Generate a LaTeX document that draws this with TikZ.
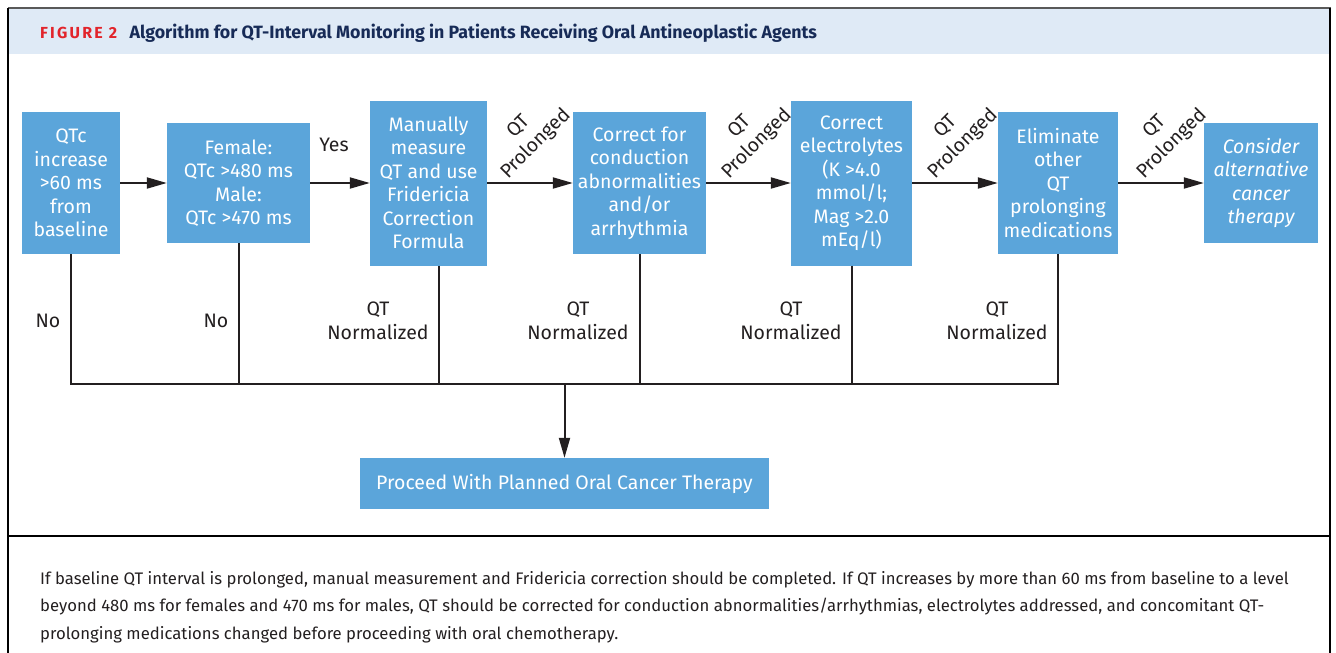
\documentclass[tikz,border=0pt]{standalone}
\usepackage{fontspec}
\setmainfont{Fira Sans}
\usetikzlibrary{arrows.meta, positioning}

\definecolor{boxblue}{HTML}{5BA5DA}
\definecolor{bandblue}{HTML}{DFEAF6}
\definecolor{titlenavy}{HTML}{172B57}
\definecolor{figred}{HTML}{E2242B}
\definecolor{ink}{HTML}{231F20}

\tikzset{
	stage/.style={fill=boxblue, text=white, align=center, inner sep=0pt,
		font=\fontsize{19.5}{23.5}\selectfont},
	lbl/.style={text=ink, align=center, inner sep=0pt, font=\fontsize{19.5}{24}\selectfont},
	flow/.style={line width=2pt, draw=ink, -{Triangle[length=20pt,width=11pt]}},
	wire/.style={line width=2pt, draw=ink},
}

\begin{document}
\begin{tikzpicture}[x=1pt,y=-1pt]
	
	% Page size and frame
	\useasboundingbox (0,0) rectangle (1336,653);
	\fill[bandblue] (9,9) rectangle (1330,54);
	\draw[gray!70!black, line width=1.5pt] (8,8) -- (1331,8);
	\draw[black, line width=2pt] (8,8) -- (8,653);
	\draw[black, line width=2pt] (1330,8) -- (1330,653);
	\draw[black, line width=1.5pt] (8,536) -- (1330,536);
	
	% Heading
	\node[anchor=west, inner sep=0pt, text=figred,
		font=\fontsize{16}{18}\selectfont\bfseries\addfontfeatures{LetterSpace=14}] (figno) at (40,33) {FIGURE 2};
	\node[right=12pt of figno, inner sep=0pt, text=titlenavy,
		font=\fontsize{17.8}{20}\selectfont\bfseries] (title)
		{Algorithm for QT-Interval Monitoring in Patients Receiving Oral Antineoplastic Agents};
	
	% Steps along the top row
	\node[stage, minimum width=98, minimum height=142] (onset) at (71,183)
		{QTc\\increase\\>60 ms\\from\\baseline};
	\node[stage, minimum width=143, minimum height=120] (sex) at (238.5,183)
		{Female:\\QTc >480 ms\\Male:\\QTc >470 ms};
	\node[stage, minimum width=117, minimum height=165] (manual) at (428.5,183)
		{Manually\\measure\\QT and use\\Fridericia\\Correction\\Formula};
	\node[stage, minimum width=133, minimum height=142] (conduct) at (639.5,183)
		{Correct for\\conduction\\abnormalities\\and/or\\arrhythmia};
	\node[stage, minimum width=121, minimum height=165] (lytes) at (851.5,183)
		{Correct\\electrolytes\\(K >4.0\\mmol/l;\\Mag >2.0\\mEq/l)};
	\node[stage, minimum width=120, minimum height=142] (meds) at (1058,183)
		{Eliminate\\other\\QT\\prolonging\\medications};
	\node[stage, minimum width=114, minimum height=120,
		font=\fontsize{19.5}{23.5}\selectfont\itshape] (alt) at (1261,183)
		{Consider\\alternative\\cancer\\therapy};
	
	% Outcome box
	\node[stage, minimum width=409, minimum height=51] (proceed) at (564.5,483.5)
		{Proceed With Planned Oral Cancer Therapy};
	
	% Arrows along the top row
	\draw[flow] (onset) -- (sex);
	\draw[flow] (sex) -- (manual);
	\draw[flow] (manual) -- (conduct);
	\draw[flow] (conduct) -- (lytes);
	\draw[flow] (lytes) -- (meds);
	\draw[flow] (meds) -- (alt);
	
	% Return lines to the bus
	\coordinate (bus) at (564.5,384);
	\coordinate (mdrop) at ([xshift=10.5]manual.south);
	\draw[wire] (onset.south) |- (meds.south |- bus) -- (meds.south);
	\foreach \s in {sex,conduct,lytes} {
		\draw[wire] (\s.south) -- (\s.south |- bus);
	}
	\draw[wire] (mdrop) -- (mdrop |- bus);
	\draw[flow] (bus) -- (proceed);
	
	% Branch labels
	\node[lbl] (yes) at (334,145) {Yes};
	\node[lbl] (no1) at (48,321) {No};
	\node[lbl] (no2) at (216,321) {No};
	\foreach \x [count=\i] in {378,578,791,997} {
		\node[lbl] (norm\i) at (\x,321) {QT\\Normalized};
	}
	\foreach \x [count=\i] in {528,749,955,1164} {
		\node[lbl, rotate=45] (prol\i) at (\x,136) {QT\\Prolonged};
	}
	
	% Caption
	\node[anchor=west, align=left, inner sep=0pt, text=ink,
		font=\fontsize{16.7}{27.5}\selectfont] (note) at (40,607)
		{If baseline QT interval is prolonged, manual measurement and Fridericia correction should be completed. If QT increases by more than 60 ms from baseline to a level\\
		beyond 480 ms for females and 470 ms for males, QT should be corrected for conduction abnormalities/arrhythmias, electrolytes addressed, and concomitant QT-\\
		prolonging medications changed before proceeding with oral chemotherapy.};
	
\end{tikzpicture}
\end{document}
